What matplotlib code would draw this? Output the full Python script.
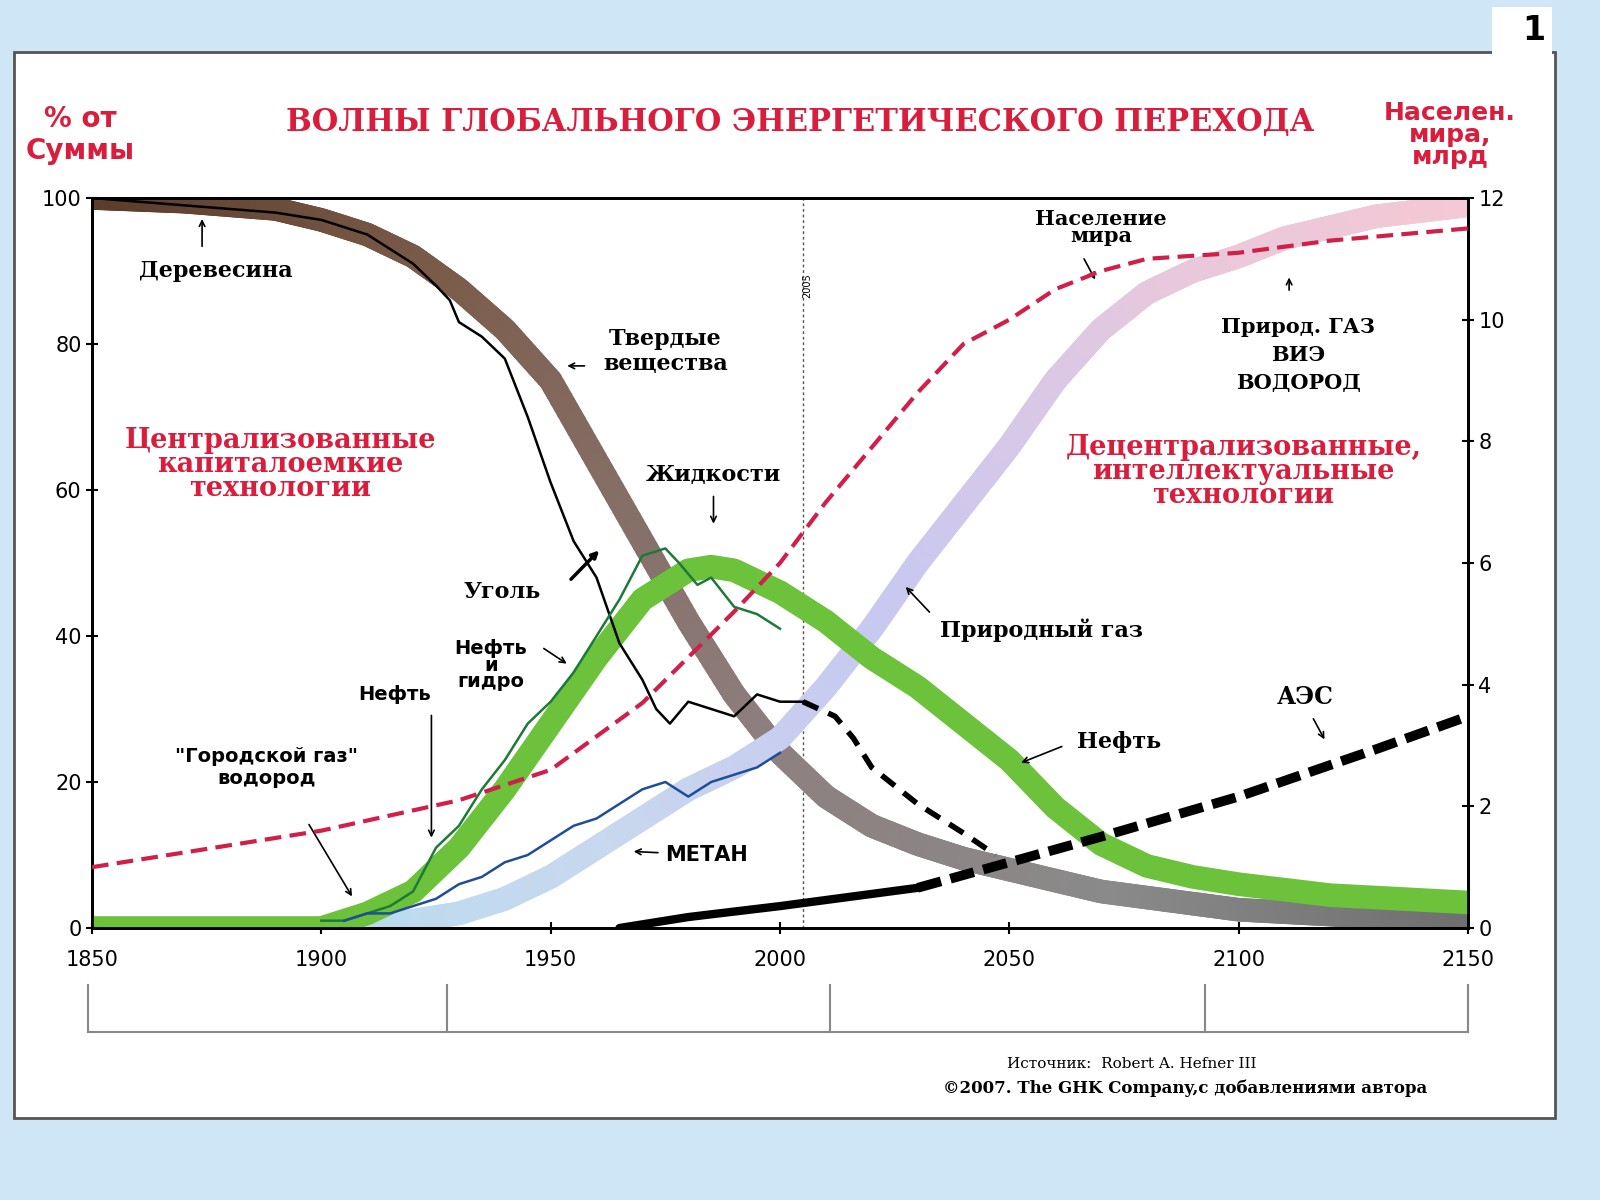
import numpy as np
import matplotlib
matplotlib.use("Agg")
import matplotlib.pyplot as plt
from matplotlib.collections import LineCollection
from matplotlib.patches import Rectangle
from matplotlib.colors import LinearSegmentedColormap

# ---- data ----
solid_years = [1850, 1870, 1890, 1900, 1910, 1920, 1930, 1940, 1950, 1960, 1970, 1980, 1990, 2000, 2010, 2020, 2030, 2040, 2050, 2070, 2100, 2130, 2150]
solid_vals  = [100, 99.5, 98.5, 97, 95, 92, 87.5, 82, 75, 64, 53, 42, 32, 24, 18, 14, 11.5, 9.5, 8, 5, 2.5, 1.5, 1]

liq_years = [1850, 1880, 1900, 1910, 1920, 1930, 1940, 1950, 1960, 1970, 1980, 1985, 1990, 2000, 2010, 2020, 2030, 2040, 2050, 2060, 2070, 2080, 2090, 2100, 2120, 2150]
liq_vals  = [0, 0, 0, 2, 5, 11, 19, 28, 37, 45, 49, 49.5, 49, 46, 42, 37, 33, 28, 23, 16.5, 11.5, 8.5, 7, 6, 4.5, 3.5]

gas_years = [1900, 1910, 1920, 1930, 1940, 1950, 1960, 1970, 1980, 1990, 2000, 2010, 2020, 2030, 2040, 2050, 2060, 2070, 2080, 2090, 2100, 2110, 2130, 2150]
gas_vals  = [0, 0, 1, 2, 4, 7, 11, 15, 19, 22, 26, 33, 41, 50, 58, 66, 75, 82, 87, 90, 92, 94.5, 97.5, 99]

coal_years = [1850, 1870, 1890, 1900, 1910, 1920, 1925, 1928, 1930, 1935, 1940, 1945, 1950, 1955, 1960, 1965, 1970, 1973, 1976, 1980, 1985, 1990, 1995, 2000, 2005]
coal_vals  = [100, 99, 98, 97, 95, 91, 88, 86, 83, 81, 78, 70, 61, 53, 48, 39, 34, 30, 28, 31, 30, 29, 32, 31, 31]

coal_fc_years = [2005, 2012, 2016, 2020, 2030, 2040, 2047]
coal_fc_vals  = [31, 29, 26, 22, 17, 13, 10]

oil_years = [1900, 1905, 1910, 1915, 1920, 1925, 1930, 1935, 1940, 1945, 1950, 1955, 1960, 1965, 1970, 1975, 1978, 1982, 1985, 1990, 1995, 2000]
oil_vals  = [1, 1, 2, 3, 5, 11, 14, 19, 23, 28, 31, 35, 40, 45, 51, 52, 50, 47, 48, 44, 43, 41]

met_years = [1905, 1910, 1915, 1920, 1925, 1930, 1935, 1940, 1945, 1950, 1955, 1960, 1965, 1970, 1975, 1980, 1985, 1990, 1995, 2000]
met_vals  = [1, 2, 2, 3, 4, 6, 7, 9, 10, 12, 14, 15, 17, 19, 20, 18, 20, 21, 22, 24]

pop_years = [1850, 1900, 1930, 1950, 1970, 1990, 2000, 2010, 2020, 2030, 2040, 2050, 2060, 2070, 2080, 2100, 2120, 2150]
pop_vals  = [1.0, 1.6, 2.1, 2.6, 3.7, 5.2, 6.0, 7.0, 7.9, 8.8, 9.6, 10.0, 10.5, 10.8, 11.0, 11.1, 11.3, 11.5]

npp_years = [1965, 1980, 2000, 2030]
npp_vals  = [0, 1.5, 3, 5.5]
npp_fc_years = [2030, 2050, 2070, 2100, 2130, 2150]
npp_fc_vals  = [5.5, 9, 12.5, 18, 24.5, 29]

# ---- figure ----
fig = plt.figure(figsize=(16, 12), dpi=100, facecolor="#cfe6f7")
fig.patches.append(Rectangle((14/1600, 1-1118/1200), (1555-14)/1600, (1118-52)/1200,
                             transform=fig.transFigure, facecolor="white", edgecolor="#555555", lw=2, zorder=-5))
fig.patches.append(Rectangle((1492/1600, 1-62/1200), 60/1600, 55/1200,
                             transform=fig.transFigure, facecolor="white", edgecolor="none", zorder=-5))
fig.text(1545/1600, 1-30/1200, "1", fontsize=24, fontweight="bold", ha="right", va="center")

ax = fig.add_axes([92/1600, 1-928/1200, (1468-92)/1600, (928-198)/1200])
ax.set_xlim(1850, 2150)
ax.set_ylim(0, 100)
ax.patch.set_alpha(0)

def grad_line(xs, ys, colors, lw, z):
    x = np.linspace(xs[0], xs[-1], 400)
    y = np.interp(x, xs, ys)
    pts = np.array([x, y]).T.reshape(-1, 1, 2)
    segs = np.concatenate([pts[:-1], pts[1:]], axis=1)
    cmap = LinearSegmentedColormap.from_list("g", colors)
    lc = LineCollection(segs, colors=cmap(np.linspace(0, 1, len(segs))), linewidths=lw,
                        capstyle="round", zorder=z)
    ax.add_collection(lc)

grad_line(solid_years, solid_vals, ["#5a3a28", "#7a5a48", "#8e8080", "#8a8a8a", "#707070"], 17, 2)
grad_line(gas_years, gas_vals, ["#b8dcf0", "#c8d8ee", "#c8c8f0", "#e8c8dc", "#f4c8d4"], 17, 2)
ax.plot(liq_years, liq_vals, color="#6cc23a", lw=17, solid_capstyle="round", solid_joinstyle="round", zorder=3)

ax.plot(coal_years, coal_vals, color="black", lw=1.8, zorder=5)
ax.plot(coal_fc_years, coal_fc_vals, color="black", lw=4, ls=(0, (3, 2)), zorder=5)
ax.plot(oil_years, oil_vals, color="#1d7a3a", lw=1.8, zorder=5)
ax.plot(met_years, met_vals, color="#1f4e99", lw=1.8, zorder=5)
ax.plot(npp_years, npp_vals, color="black", lw=6, solid_capstyle="round", zorder=6)
ax.plot(npp_fc_years, npp_fc_vals, color="black", lw=7, ls=(0, (2.5, 1)), zorder=6)

ax2 = ax.twinx()
ax2.set_ylim(0, 12)
ax2.plot(pop_years, pop_vals, color="#d0204a", lw=3, ls=(0, (4, 2)), zorder=7)

ax.axvline(2005, color="#555555", lw=1, ls=(0, (2, 2)), zorder=1)
ax.text(2006, 88, "2005", rotation=90, fontsize=7, ha="center", va="center")

ax.set_xticks([1850, 1900, 1950, 2000, 2050, 2100, 2150])
ax.set_yticks([0, 20, 40, 60, 80, 100])
ax2.set_yticks([0, 2, 4, 6, 8, 10, 12])
for a in (ax, ax2):
    a.tick_params(labelsize=15, length=8, width=1.5)
    for s in a.spines.values():
        s.set_linewidth(2)
ax.tick_params(axis="x", pad=12, direction="inout")
ax.tick_params(axis="y", direction="inout")
ax2.tick_params(axis="y", direction="inout")

# bracket under axis
fig.lines.append(plt.Line2D([88/1600, 1468/1600], [1-1032/1200]*2, transform=fig.transFigure, color="#888", lw=1.5))
for px in [88, 447, 830, 1205, 1468]:
    fig.lines.append(plt.Line2D([px/1600]*2, [1-985/1200, 1-1032/1200], transform=fig.transFigure, color="#888", lw=1.5))

red = "#d81e3c"
serif = dict(family="DejaVu Serif", fontweight="bold")
arr = dict(arrowstyle="->", lw=1.2, color="black")
fig.text(800/1600, 1-123/1200, "ВОЛНЫ ГЛОБАЛЬНОГО ЭНЕРГЕТИЧЕСКОГО ПЕРЕХОДА", color=red, fontsize=22,
         ha="center", va="center", **serif)
fig.text(80/1600, 1-135/1200, "% от\nСуммы", color=red, fontsize=20, ha="center", va="center", fontweight="bold")
fig.text(1450/1600, 1-135/1200, "Населен.\nмира,\nмлрд", color=red, fontsize=18, ha="center", va="center",
         fontweight="bold", linespacing=0.9)

ax.text(1877, 90, "Деревесина", fontsize=16, ha="center", va="center", **serif)
ax.annotate("", xy=(1874, 97.5), xytext=(1874, 93), arrowprops=arr)
ax.text(1975, 79, "Твердые\nвещества", fontsize=16, ha="center", va="center", **serif)
ax.annotate("", xy=(1953, 77), xytext=(1958, 77), arrowprops=arr)
ax.text(1891, 63.5, "Централизованные\nкапиталоемкие\nтехнологии", color=red, fontsize=19.5, ha="center",
        va="center", linespacing=0.85, **serif)
ax.text(2101, 62.5, "Децентрализованные,\nинтеллектуальные\nтехнологии", color=red, fontsize=19.5, ha="center",
        va="center", linespacing=0.85, **serif)
ax.text(1985.5, 62, "Жидкости", fontsize=16, ha="center", va="center", **serif)
ax.annotate("", xy=(1985.5, 55), xytext=(1985.5, 59.5), arrowprops=arr)
ax.text(1939.5, 46, "Уголь", fontsize=16, ha="center", va="center", **serif)
ax.annotate("", xy=(1961, 52), xytext=(1954, 47.5), arrowprops=dict(arrowstyle="-|>", lw=2.5, color="black"))
ax.text(1937, 36, "Нефть\nи\nгидро", fontsize=14, ha="center", va="center", fontweight="bold", linespacing=0.85)
ax.annotate("", xy=(1954, 36), xytext=(1948, 38.5), arrowprops=arr)
ax.text(1916, 32, "Нефть", fontsize=14, ha="center", va="center", fontweight="bold")
ax.annotate("", xy=(1924, 12), xytext=(1924, 29.5), arrowprops=arr)
ax.text(1888, 22, "\"Городской газ\"\nводород", fontsize=14, ha="center", va="center", fontweight="bold")
ax.annotate("", xy=(1907, 4), xytext=(1897, 14.5), arrowprops=arr)
ax.text(1975, 10, "МЕТАН", fontsize=15, ha="left", va="center", fontweight="bold")
ax.annotate("", xy=(1967.5, 10.5), xytext=(1974, 10.3), arrowprops=arr)
ax.text(2057, 40.8, "Природный газ", fontsize=16, ha="center", va="center", **serif)
ax.annotate("", xy=(2027, 47), xytext=(2033, 43), arrowprops=arr)
ax.text(2074, 25.5, "Нефть", fontsize=16, ha="center", va="center", **serif)
ax.annotate("", xy=(2052, 22.5), xytext=(2062, 25), arrowprops=arr)
ax.text(2114.5, 31.6, "АЭС", fontsize=17, ha="center", va="center", **serif)
ax.annotate("", xy=(2119, 25.5), xytext=(2116, 29), arrowprops=arr)
ax.text(2070, 96, "Население\nмира", fontsize=15, ha="center", va="center", linespacing=0.8, **serif)
ax.annotate("", xy=(2069, 88.5), xytext=(2066, 92), arrowprops=arr)
ax.text(2113, 78.5, "Природ. ГАЗ\nВИЭ\nВОДОРОД", fontsize=15, ha="center", va="center", linespacing=1.5, **serif)
ax.annotate("", xy=(2111, 89.5), xytext=(2111, 87), arrowprops=arr)

fig.text(1132/1600, 1-1064/1200, "Источник:  Robert A. Hefner III", fontsize=11, ha="center", va="center",
         family="DejaVu Serif")
fig.text(1185/1600, 1-1088/1200, "©2007. The GHK Company,с добавлениями автора", fontsize=12, ha="center",
         va="center", **serif)

fig.savefig("out.png", dpi=100, facecolor=fig.get_facecolor())
